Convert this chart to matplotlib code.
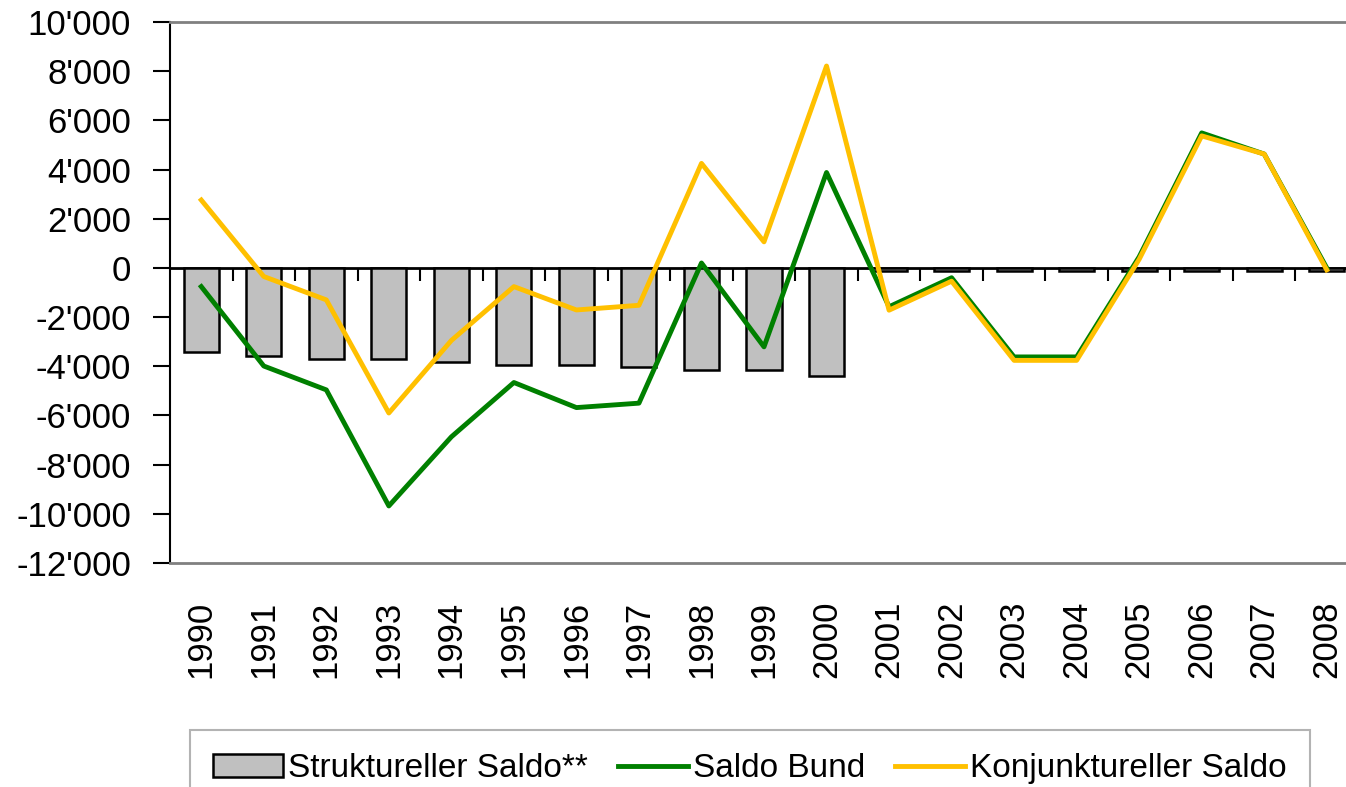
import matplotlib
matplotlib.use("Agg")
import matplotlib.pyplot as plt
from matplotlib.ticker import FuncFormatter, FixedLocator, NullFormatter

plt.rcParams['font.family'] = ['Liberation Sans', 'DejaVu Sans']

years = ['1990', '1991', '1992', '1993', '1994', '1995', '1996', '1997', '1998', '1999',
         '2000', '2001', '2002', '2003', '2004', '2005', '2006', '2007', '2008']

# values in Mio. CHF
struktureller = [-3400, -3600, -3700, -3700, -3830, -3950, -3950, -4030, -4150, -4150,
                 -4380, -120, -120, -120, -120, -120, -120, -120, -120]
saldo_bund = [-760, -3990, -4960, -9680, -6870, -4660, -5680, -5500, 200, -3210,
              3880, -1580, -400, -3620, -3620, 450, 5490, 4630, 0]
konjunkturell = [2760, -350, -1300, -5900, -2950, -760, -1710, -1520, 4250, 1060,
                 8210, -1720, -540, -3760, -3760, 350, 5370, 4630, -80]

x = list(range(len(years)))

fig = plt.figure(figsize=(13.46, 7.87), dpi=100)
ax = fig.add_axes([170 / 1346, 1 - 563 / 787, (1358 - 170) / 1346, (563 - 22) / 787])

bars = ax.bar(x, struktureller, width=0.56, color='#C0C0C0', edgecolor='black', linewidth=1.8,
              label='Struktureller Saldo**', zorder=2)
l_bund, = ax.plot(x, saldo_bund, color='#008000', linewidth=3.5, label='Saldo Bund', zorder=3)
l_konj, = ax.plot(x, konjunkturell, color='#FFC000', linewidth=3.5,
                  label='Konjunktureller Saldo', zorder=4)

ax.set_xlim(-0.5, len(years) - 0.5)
ax.set_ylim(-12000, 10000)
ax.set_yticks(range(-12000, 10001, 2000))
ax.yaxis.set_major_formatter(FuncFormatter(lambda v, p: f"{int(v):,}".replace(',', "'")))
ax.tick_params(axis='y', direction='out', length=12, width=1.5, labelsize=25, pad=16)

# plot area border in grey, left axis black
for side in ['top', 'bottom', 'right']:
    ax.spines[side].set_color('#808080')
    ax.spines[side].set_linewidth(2)
ax.spines['left'].set_linewidth(1.5)

# year labels below the plot area
ax.set_xticks(x)
ax.set_xticklabels(years, rotation=90, fontsize=25)
ax.tick_params(axis='x', length=0, pad=27)

# category axis at zero with ticks between categories
zero_frac = 12000 / 22000
sec = ax.secondary_xaxis(zero_frac)
sec.xaxis.set_ticks_position('bottom')
sec.xaxis.set_major_locator(FixedLocator([i + 0.5 for i in range(len(years) - 1)]))
sec.xaxis.set_major_formatter(NullFormatter())
sec.tick_params(axis='x', which='both', direction='out', length=9, width=1.5,
                top=False, bottom=True, labelbottom=False, labeltop=False)
sec.minorticks_off()
for s in sec.spines.values():
    s.set_linewidth(2)

leg = fig.legend(handles=[bars, l_bund, l_konj], loc='upper left',
                 bbox_to_anchor=(190 / 1346, 1 - 730 / 787), ncol=3,
                 fontsize=24, frameon=True, fancybox=False, edgecolor='#A0A0A0',
                 handlelength=2.1, handletextpad=0.15, columnspacing=0.9, borderpad=0.7,
                 borderaxespad=0)
leg.get_frame().set_linewidth(1.5)

fig.savefig('out.png', dpi=100)
